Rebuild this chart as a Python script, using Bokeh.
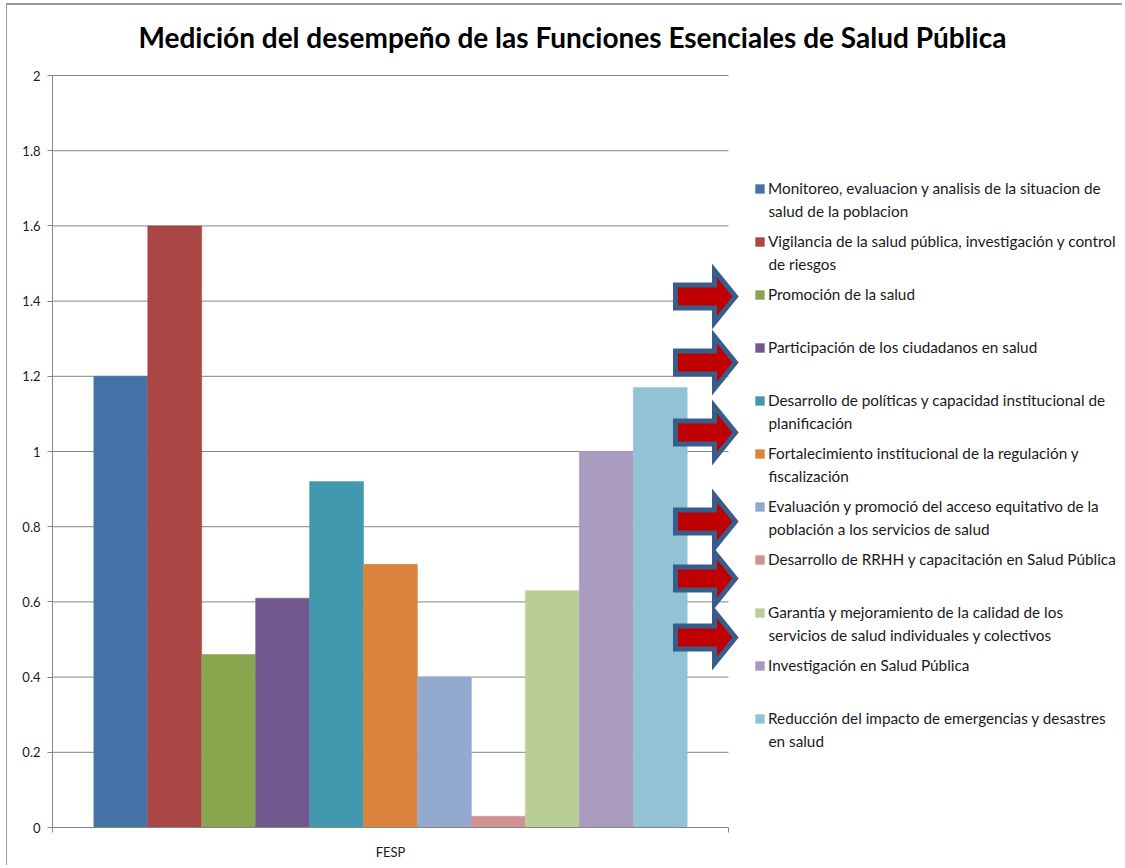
from bokeh.plotting import figure
from bokeh.models import Range1d, FixedTicker, Legend, LegendItem, PolyAnnotation, Label
from bokeh.embed import file_html
from bokeh.resources import INLINE

# ---------------- data ----------------
categories = ["FESP"]
series_names = [
    "Monitoreo, evaluacion y analisis de la situacion de\nsalud de la poblacion",
    "Vigilancia de la salud pública, investigación y control\nde riesgos",
    "Promoción de la salud",
    "Participación de los ciudadanos en salud",
    "Desarrollo de políticas y capacidad institucional de\nplanificación",
    "Fortalecimiento institucional de la regulación y\nfiscalización",
    "Evaluación y promoció del acceso equitativo de la\npoblación a los servicios de salud",
    "Desarrollo de RRHH y capacitación en Salud Pública",
    "Garantía y mejoramiento de la calidad de los\nservicios de salud individuales y colectivos",
    "Investigación en Salud Pública",
    "Reducción del impacto de emergencias y desastres\nen salud",
]
values = [1.2, 1.6, 0.46, 0.61, 0.92, 0.70, 0.40, 0.03, 0.63, 1.0, 1.17]
y_ticks = [0, 0.2, 0.4, 0.6, 0.8, 1.0, 1.2, 1.4, 1.6, 1.8, 2.0]
y_tick_labels = ["0", "0.2", "0.4", "0.6", "0.8", "1", "1.2", "1.4", "1.6", "1.8", "2"]
y_max = 2.0

# ---------------- style / layout ----------------
colors = ["#4572A7", "#AA4643", "#89A54E", "#71588F", "#4198AF", "#DB843D",
          "#93A9CF", "#D19392", "#B9CD96", "#A99BBD", "#92C3D4"]
FONT = "Lato"
AXIS_GRAY = "#868686"
TEXT_COLOR = "#1a1a1a"
LEG_FONT_SIZE = "15.3px"
BAR_W = 0.0798
PX_PER_CAT = 676.0            # plot-area width in pixels for the category axis
FRAME_W = 1066.0              # frame also hosts legend + arrows
X_END = FRAME_W / PX_PER_CAT
PX_PER_UNIT = 375.5           # vertical pixels per value unit
TOP_PAD_PX = 14               # frame space above the value axis end (title sits above)
Y_END = y_max + TOP_PAD_PX / PX_PER_UNIT
FRAME_X0, FRAME_Y0 = 52, 827  # page pixels of frame's bottom-left

cat_pos = [i + 0.5 for i in range(len(categories))]

p = figure(x_range=Range1d(0, X_END), y_range=Range1d(0, Y_END),
           width=1116, height=862,
           output_backend="svg", toolbar_location=None,
           min_border_left=45, min_border_right=5,
           min_border_top=56, min_border_bottom=40,
           title="Medición del desempeño de las Funciones Esenciales de Salud Pública")
p.styles = {"border-top": "2px solid #9a9a9a", "border-left": "1px solid #9a9a9a",
            "margin-left": "6px", "margin-top": "3px"}

p.title.text_font = FONT
p.title.text_font_size = "28px"
p.title.text_font_style = "bold"
p.title.text_color = "#000000"
p.title.align = "left"
p.title.offset = 86
p.title.standoff = 16

p.outline_line_color = None
p.xgrid.grid_line_color = None
p.ygrid.grid_line_color = None

# y axis
p.yaxis.ticker = FixedTicker(ticks=y_ticks)
p.yaxis.major_label_overrides = dict(zip(y_ticks, y_tick_labels))
p.yaxis.bounds = (0, y_max)
p.yaxis.axis_line_color = AXIS_GRAY
p.yaxis.major_tick_line_color = AXIS_GRAY
p.yaxis.major_tick_out = 5
p.yaxis.major_tick_in = 0
p.yaxis.minor_tick_line_color = None
p.yaxis.major_label_standoff = 7
p.yaxis.major_label_text_font = FONT
p.yaxis.major_label_text_font_size = "13px"
p.yaxis.major_label_text_color = TEXT_COLOR

# x axis (category axis limited to plot area)
p.xaxis.ticker = FixedTicker(ticks=cat_pos, minor_ticks=[0, len(categories)])
p.xaxis.major_label_overrides = dict(zip(cat_pos, categories))
p.xaxis.bounds = (0, len(categories))
p.xaxis.axis_line_color = AXIS_GRAY
p.xaxis.major_tick_line_color = None
p.xaxis.minor_tick_line_color = AXIS_GRAY
p.xaxis.minor_tick_out = 5
p.xaxis.minor_tick_in = 0
p.xaxis.major_label_standoff = 10
p.xaxis.major_label_text_font = FONT
p.xaxis.major_label_text_font_size = "13px"
p.xaxis.major_label_text_color = TEXT_COLOR

# horizontal gridlines limited to the plot area
p.segment(x0=[0] * len(y_ticks), x1=[len(categories)] * len(y_ticks),
          y0=y_ticks, y1=y_ticks, line_color=AXIS_GRAY, line_width=1)

# bars
items = []
n = len(values)
first_lines = [s.split("\n")[0] for s in series_names]
for i, (lab, v, c) in enumerate(zip(first_lines, values, colors)):
    xc = cat_pos[0] + (i - (n - 1) / 2) * BAR_W
    r = p.vbar(x=[xc], top=[v], width=BAR_W,
               fill_color=c, line_color=c, line_width=0.5)
    items.append(LegendItem(label=lab, renderers=[r]))

# legend (first line of each entry); wrapped continuation lines as labels
LEG_X = 702           # px from frame left
ITEM_H, ITEM_GAP = 21, 32
LEG_TOP = 177.5       # page px
LINE_GAP = 22
leg_h = n * ITEM_H + (n - 1) * ITEM_GAP
legend = Legend(items=items, location=(LEG_X, FRAME_Y0 - (LEG_TOP + leg_h)),
                border_line_color=None, background_fill_alpha=0,
                padding=0, margin=0, spacing=ITEM_GAP,
                glyph_width=11, glyph_height=11, label_standoff=3,
                label_height=ITEM_H,
                label_text_font=FONT, label_text_font_size=LEG_FONT_SIZE,
                label_text_color=TEXT_COLOR)
p.add_layout(legend)

for i, s in enumerate(series_names):
    parts = s.split("\n")
    line1_y = LEG_TOP + ITEM_H / 2 + i * (ITEM_H + ITEM_GAP)
    for k, extra in enumerate(parts[1:], start=1):
        p.add_layout(Label(x=LEG_X + 11 + 3, y=FRAME_Y0 - (line1_y + k * LINE_GAP),
                           x_units="screen", y_units="screen", text=extra,
                           text_align="left", text_baseline="middle",
                           text_font=FONT, text_font_size=LEG_FONT_SIZE,
                           text_color=TEXT_COLOR))

# ---------------- decorative arrows (screen px relative to frame's bottom-left) ----------------
arrow_center_y = [296, 362, 432, 521, 578, 637]   # page pixels
ax = [675, 714, 714, 735, 714, 714, 675]
ay = [-11.5, -11.5, -26, 0, 26, 11.5, 11.5]
for cy in arrow_center_y:
    xs = [x - FRAME_X0 for x in ax]
    ys = [FRAME_Y0 - (cy + d) for d in ay]
    p.add_layout(PolyAnnotation(xs=xs, ys=ys, xs_units="screen", ys_units="screen",
                                fill_color="#C00000", fill_alpha=1,
                                line_color="#385D8A", line_alpha=1, line_width=5,
                                line_join="miter", level="overlay"))

open("out.html", "w").write(file_html(p, INLINE))
